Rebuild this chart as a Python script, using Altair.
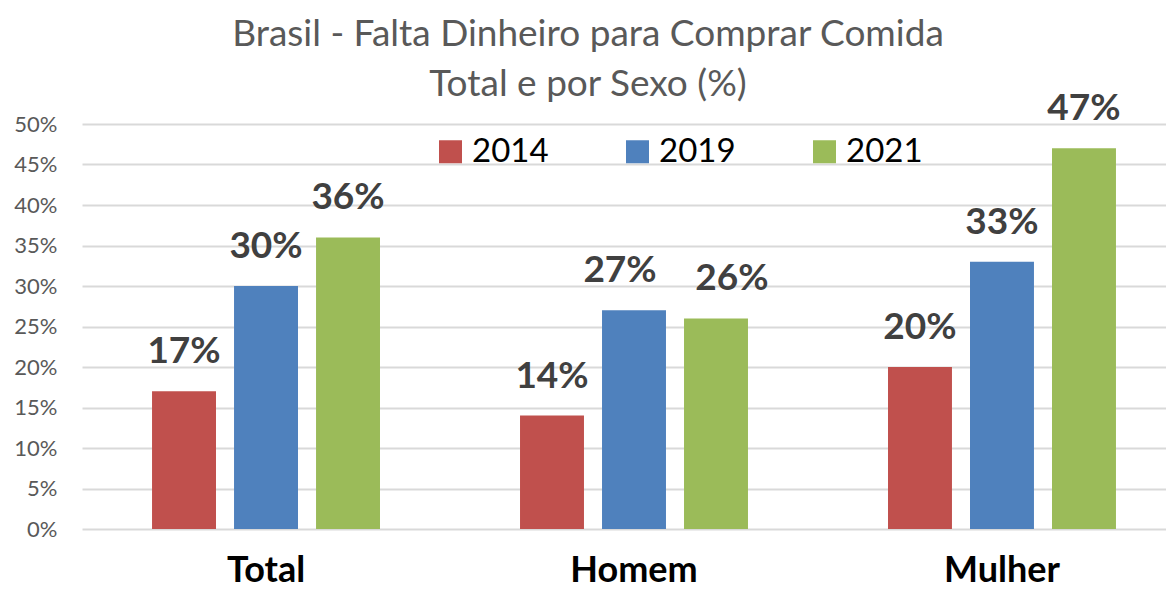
import altair as alt
import pandas as pd

categorias = ["Total", "Homem", "Mulher"]
anos = ["2014", "2019", "2021"]
valores_2014 = [17, 14, 20]
valores_2019 = [30, 27, 33]
valores_2021 = [36, 26, 47]
y_ticks = [0, 5, 10, 15, 20, 25, 30, 35, 40, 45, 50]
title_lines = ["Brasil - Falta Dinheiro para Comprar Comida", "Total e por Sexo (%)"]
cores = ["#C0504D", "#4F81BD", "#9BBB59"]

rows = []
for ano, vals in zip(anos, [valores_2014, valores_2019, valores_2021]):
    for c, v in zip(categorias, vals):
        rows.append({"Sexo": c, "Ano": ano, "Valor": v})
df = pd.DataFrame(rows)
df["Rotulo"] = df["Valor"].astype(str) + "%"

FONT = "Lato"

x = alt.X(
    "Sexo:N", sort=categorias,
    scale=alt.Scale(range=[0, 1104], paddingInner=0.3315, paddingOuter=0.1658),
    axis=alt.Axis(title=None, labelFontSize=36, labelFontWeight="bold", labelColor="#000000",
                  labelFont=FONT, labelPadding=24, domain=False, ticks=False, labelAngle=0),
)
xo = alt.XOffset("Ano:N", sort=anos, scale=alt.Scale(paddingInner=0.22, paddingOuter=0.11))
y = alt.Y(
    "Valor:Q",
    scale=alt.Scale(domain=[0, 50], nice=False),
    axis=alt.Axis(values=y_ticks, labelExpr="datum.value + '%'", title=None, labelFontSize=22,
                  labelColor="#595959", labelFont=FONT, labelPadding=25, domain=False, ticks=False,
                  gridColor="#D9D9D9", gridWidth=2),
)
color = alt.Color(
    "Ano:N", sort=anos,
    scale=alt.Scale(domain=anos, range=cores),
    legend=alt.Legend(orient="none", direction="horizontal", legendX=352, legendY=11, title=None,
                      symbolType="square", symbolSize=529, symbolStrokeWidth=0, labelFontSize=33,
                      labelFont=FONT, labelColor="#000000", labelOffset=5, columnPadding=72,
                      symbolOpacity=1),
)

bars = alt.Chart(df).mark_bar().encode(x=x, xOffset=xo, y=y, color=color)

def rotulos(dx, filtro):
    return alt.Chart(df).mark_text(
        font=FONT, fontSize=37, fontWeight="bold", color="#404040",
        baseline="alphabetic", dy=-28, dx=dx,
    ).encode(
        x=alt.X("Sexo:N", sort=categorias),
        xOffset=alt.XOffset("Ano:N", sort=anos),
        y=alt.Y("Valor:Q"),
        text="Rotulo:N",
    ).transform_filter(filtro)

t_normal = rotulos(0, "!(datum.Sexo == 'Homem' && datum.Ano != '2014')")
t_esq = rotulos(-14, "datum.Sexo == 'Homem' && datum.Ano == '2019'")
t_dir = rotulos(16, "datum.Sexo == 'Homem' && datum.Ano == '2021'")

def titulo(texto, ypos):
    return alt.Chart(pd.DataFrame({"t": [texto]})).mark_text(
        font=FONT, fontSize=37, color="#595959", align="center", baseline="middle",
    ).encode(text="t:N", x=alt.value(506), y=alt.value(ypos))

tit1 = titulo(title_lines[0], -89)
tit2 = titulo(title_lines[1], -39)

chart = alt.layer(bars, t_normal, t_esq, t_dir, tit1, tit2).properties(
    width=1084, height=405,
    autosize=alt.AutoSizeParams(type="none"),
    padding={"left": 74, "top": 116, "right": 0, "bottom": 62},
).configure_view(strokeWidth=0)

chart.save("out.html", embed_options={"renderer": "svg", "actions": False})
